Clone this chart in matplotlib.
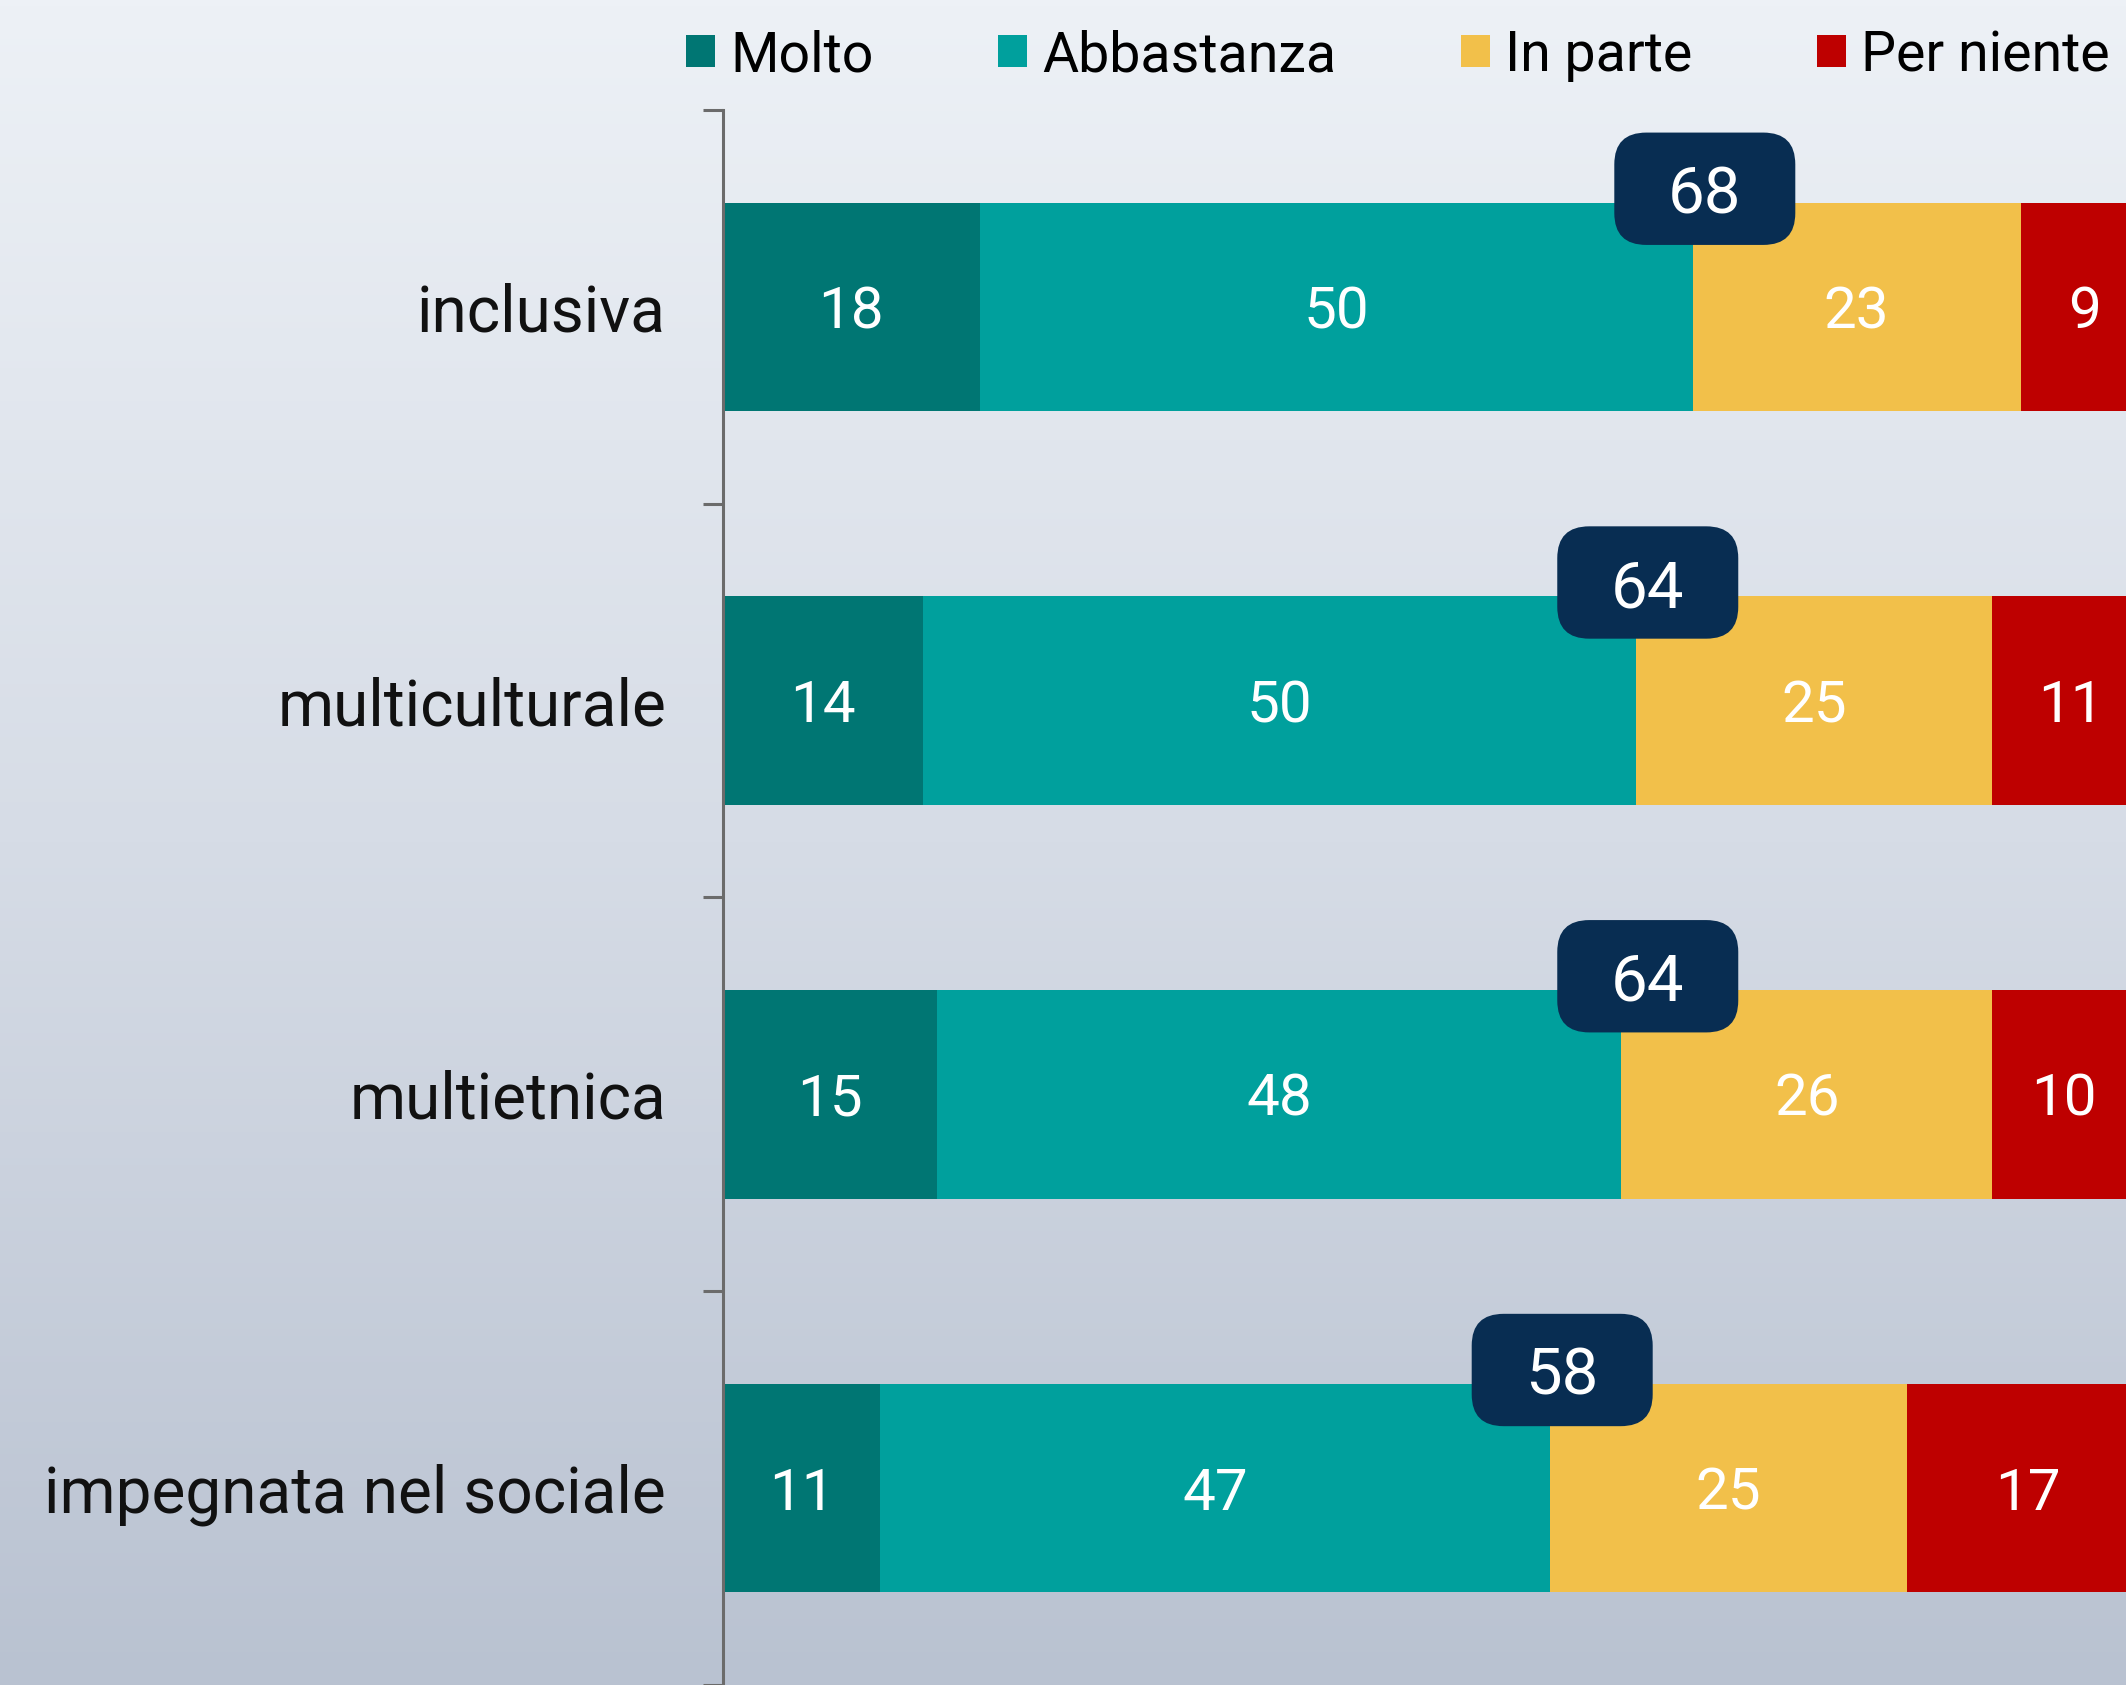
import numpy as np
import matplotlib
matplotlib.use("Agg")
import matplotlib.pyplot as plt
from matplotlib.patches import Patch, FancyBboxPatch
from matplotlib.colors import LinearSegmentedColormap

# ---- data ----
categories = ["inclusiva", "multiculturale", "multietnica", "impegnata nel sociale"]
series_names = ["Molto", "Abbastanza", "In parte", "Per niente"]
molto = [18, 14, 15, 11]
abbastanza = [50, 50, 48, 47]
in_parte = [23, 25, 26, 25]
per_niente = [9, 11, 10, 17]
totals = [68, 64, 64, 58]  # Molto + Abbastanza (as published)

colors = ["#007673", "#00A09D", "#F2C04A", "#BE0000"]
box_color = "#082D52"
FONT = ["Roboto", "DejaVu Sans"]
plt.rcParams["font.family"] = FONT

W, H, DPI = 2126, 1685, 100
fig = plt.figure(figsize=(W / DPI, H / DPI), dpi=DPI)

# background gradient
bg = fig.add_axes([0, 0, 1, 1], zorder=-10)
cmap = LinearSegmentedColormap.from_list("bg", ["#EDF1F6", "#D6DCE6", "#B9C2D1"])
bg.imshow(np.linspace(0, 1, 256).reshape(-1, 1), aspect="auto", cmap=cmap,
          extent=[0, 1, 0, 1], origin="upper")
bg.set_axis_off()

ax_left = 723 / W
ax_top = 110 / H
ax = fig.add_axes([ax_left, 0, 1 - ax_left, 1 - ax_top])
ax.patch.set_alpha(0)

y = np.arange(len(categories))
series = [molto, abbastanza, in_parte, per_niente]
bar_h = 0.53
left = np.zeros(len(categories))
for vals, col, name in zip(series, colors, series_names):
    vals = np.array(vals, dtype=float)
    ax.barh(y, vals, left=left, height=bar_h, color=col, label=name,
            edgecolor="none", zorder=2)
    for yi, (l, v) in enumerate(zip(left, vals)):
        ax.text(l + v / 2, yi, f"{int(v)}", ha="center", va="center_baseline",
                color="white", fontsize=42, zorder=4)
    left += vals

xmax = (W - 723) / 14.26
ax.set_xlim(0, xmax)
ylo = 3.477
ax.set_ylim(ylo, -0.5)

# total boxes
px_x = xmax / (W - 723)              # data units per pixel in x
px_y = (ylo + 0.5) / (H - 110)       # data units per pixel in y
bw, bh = 181 * px_x, 113 * px_y
rad = 32 * px_x
for yi, t in enumerate(totals):
    cx = t + 0.85
    cy = yi - bar_h / 2 - 0.035
    box = FancyBboxPatch((cx - bw / 2, cy - bh / 2), bw, bh,
                         boxstyle=f"round,pad=0,rounding_size={rad}",
                         mutation_aspect=px_y / px_x,
                         facecolor=box_color, edgecolor="none", zorder=5)
    ax.add_patch(box)
    ax.text(cx, cy, f"{t}", ha="center", va="center_baseline", color="white",
            fontsize=47, zorder=6)

# axes styling
for s in ["top", "right", "bottom"]:
    ax.spines[s].set_visible(False)
ax.spines["left"].set_color("#6B6B6B")
ax.spines["left"].set_linewidth(2.2)
ax.set_xticks([])
ax.set_yticks(np.arange(len(categories) + 1) - 0.5)
ax.set_yticklabels([])
ax.tick_params(axis="y", which="major", length=14.5, width=2.2, color="#6B6B6B")
ax.set_yticks(y, minor=True)
ax.set_yticklabels(categories, minor=True)
ax.tick_params(axis="y", which="minor", length=0, pad=41, labelsize=46,
               labelcolor="#111111")

# legend
handles = [Patch(facecolor=c, edgecolor="none") for c in colors]
fig.legend(handles, series_names, loc="upper right", ncol=4,
           bbox_to_anchor=(2110 / W, 1 - 29 / H), frameon=False,
           fontsize=40, handlelength=0.52, handleheight=0.52,
           handletextpad=0.27, columnspacing=2.25, borderpad=0,
           borderaxespad=0)

fig.savefig("out.png", dpi=DPI)
